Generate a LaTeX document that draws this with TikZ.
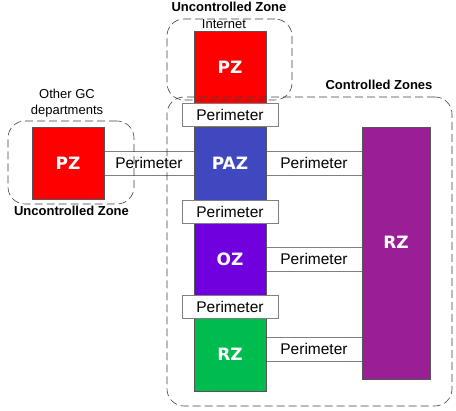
\documentclass[tikz,border=0pt]{standalone}
\usepackage{fontspec}
\setmainfont{Liberation Sans}
\newfontfamily\zonefont{DejaVu Sans}
\usepackage{xcolor}
\usepackage{tikz}
\usetikzlibrary{positioning}

\definecolor{pzred}{RGB}{255,0,0}
\definecolor{pazblue}{RGB}{63,72,190}
\definecolor{ozviolet}{RGB}{112,0,221}
\definecolor{rzgreen}{RGB}{0,187,78}
\definecolor{rzpurple}{RGB}{154,30,150}
\definecolor{edgegray}{RGB}{85,85,85}

\begin{document}
\begin{tikzpicture}[x=1pt, y=-1pt,
        zonebox/.style={draw=edgegray, text=white, font=\zonefont\bfseries\fontsize{17}{20}\selectfont, minimum width=72pt, minimum height=72pt, inner sep=0pt},
        perim/.style={draw=gray, fill=white, font=\fontsize{15.5}{18}\selectfont, minimum height=23pt, inner sep=0pt},
        area/.style={draw=black!75, line width=0.6pt, dash pattern=on 8pt off 4pt, rounded corners=17pt, inner sep=0pt},
        arealabel/.style={font=\bfseries\fontsize{13}{15}\selectfont, inner sep=0pt}]
        \useasboundingbox (0,0) rectangle (456,411);

        \node[perim, minimum width=90pt, minimum height=24pt] (perLeft) at (149,163) {Perimeter};
        \node[perim, minimum width=96pt, minimum height=24pt] (perPaz) at (314,163) {Perimeter};
        \node[perim, minimum width=96pt, minimum height=24pt] (perOz) at (314,259) {Perimeter};
        \node[perim, minimum width=96pt, minimum height=24pt] (perRz) at (314,349) {Perimeter};

        \node[zonebox, fill=pzred] (pzTop) at (230,67) {PZ};
        \node[zonebox, fill=pzred] (pzLeft) at (68,163) {PZ};
        \node[zonebox, fill=pazblue, minimum height=73pt] (paz) at (230,163.5) {PAZ};
        \node[zonebox, fill=ozviolet] (oz) at (230,259) {OZ};
        \node[zonebox, fill=rzgreen, minimum height=73pt] (rzLow) at (230,354.5) {RZ};
        \node[zonebox, fill=rzpurple, minimum width=68pt, minimum height=252pt] (rzBig) at (396,253) {};
        \node[text=white, font=\zonefont\bfseries\fontsize{17}{20}\selectfont] at (396,242) {RZ};

        \node[perim, minimum width=96pt] (perTop) at (230,115) {Perimeter};
        \node[perim, minimum width=96pt] (perMid) at (230,211.5) {Perimeter};
        \node[perim, minimum width=96pt] (perLow) at (230,306.5) {Perimeter};

        \node[area, minimum width=125pt, minimum height=81pt] (zoneTop) at (229.5,59.5) {};
        \node[area, minimum width=126pt, minimum height=83pt] (zoneLeft) at (71,162.5) {};
        \node[area, minimum width=285pt, minimum height=309pt] (zoneCtrl) at (309.5,251.5) {};

        \node[arealabel] (lblTop) at (229,7) {Uncontrolled Zone};
        \node[font=\fontsize{13}{15}\selectfont, inner sep=0pt] (lblNet) at (224,24.5) {Internet};
        \node[arealabel] (lblCtrl) at (379,85) {Controlled Zones};
        \node[font=\fontsize{13}{16}\selectfont, align=center, inner sep=0pt] (lblOther) at (67,103) {Other GC\\departments};
        \node[arealabel] (lblLeft) at (71.5,211) {Uncontrolled Zone};
    \end{tikzpicture}
\end{document}
